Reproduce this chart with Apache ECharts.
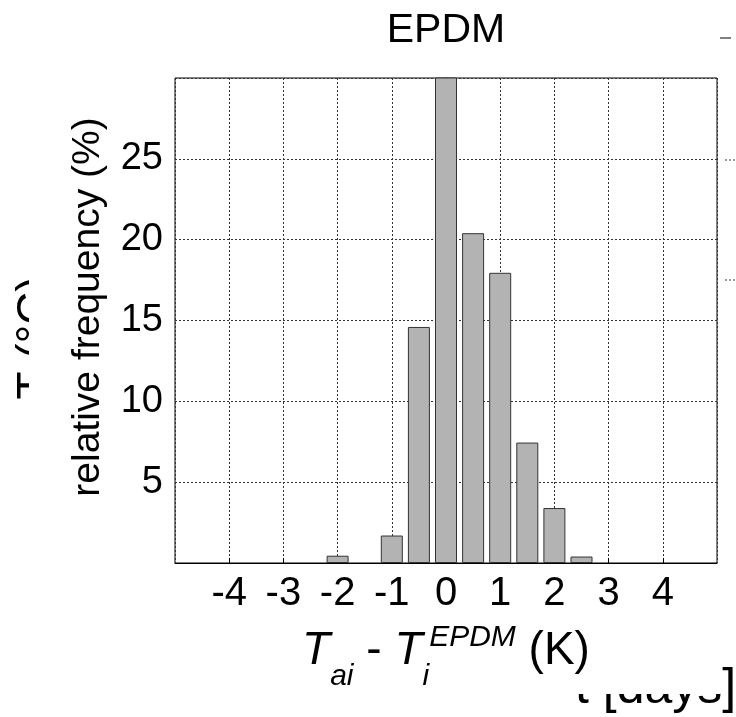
<!DOCTYPE html>
<html>
<head>
<meta charset="utf-8">
<script src="https://cdn.jsdelivr.net/npm/echarts@6/dist/echarts.min.js"></script>
<style>
html,body{margin:0;padding:0;background:#fff;}
#chart{width:736px;height:717px;}
</style>
</head>
<body>
<div id="chart"></div>
<script>
// ---- data ----
const binCenters = [-2, -1, -0.5, 0, 0.5, 1, 1.5, 2, 2.5];
const relFreq = [0.45, 1.7, 14.6, 31, 20.4, 17.95, 7.45, 3.4, 0.4];
const xTicks = [-4, -3, -2, -1, 0, 1, 2, 3, 4];
const yTicks = [5, 10, 15, 20, 25];
const titleText = 'EPDM';
const yName = 'relative frequency (%)';

const FONT = 'Liberation Sans, Arial, sans-serif';
const chart = echarts.init(document.getElementById('chart'), null, {renderer: 'canvas'});

const barData = binCenters.map((x, i) => [x, relFreq[i]]);

chart.setOption({
  animation: false,
  backgroundColor: '#fff',
  grid: {left: 175, right: 19, top: 78, bottom: 154, show: true, borderColor: '#000', borderWidth: 1, backgroundColor: 'transparent', z: 2},
  xAxis: {
    type: 'value', min: -5, max: 5, interval: 1, z: 3,
    axisLine: {show: true, onZero: false, lineStyle: {color: '#000', width: 1}},
    axisTick: {show: true, inside: true, length: 5, lineStyle: {color: '#000'}},
    axisLabel: {
      show: true, showMinLabel: false, showMaxLabel: false, margin: 11,
      color: '#000', fontSize: 40, fontFamily: FONT,
      formatter: v => (xTicks.indexOf(v) >= 0 ? String(v) : '')
    },
    splitLine: {show: true, lineStyle: {color: '#333', width: 1, type: [2, 2]}}
  },
  yAxis: {
    type: 'value', min: 0, max: 30, interval: 5, z: 3,
    axisLine: {show: true, lineStyle: {color: '#000', width: 1}},
    axisTick: {show: true, inside: true, length: 5, lineStyle: {color: '#000'}},
    axisLabel: {
      show: true, showMinLabel: false, showMaxLabel: false, margin: 12,
      color: '#000', fontSize: 38, fontFamily: FONT,
      formatter: v => (yTicks.indexOf(v) >= 0 ? String(v) : '')
    },
    splitLine: {show: true, lineStyle: {color: '#333', width: 1, type: [2, 2]}}
  },
  series: [{
    type: 'bar',
    data: barData,
    barWidth: 22,
    clip: true,
    z: 4,
    itemStyle: {color: '#b3b3b3', borderColor: '#333', borderWidth: 1}
  }],
  graphic: [
    // fragments of the figure lying behind (partly covered)
    {type: 'text', z: -10, x: 36, y: 338, rotation: Math.PI / 2,
     style: {text: 'T (°C)', fill: '#000', font: '46px ' + FONT, align: 'center', verticalAlign: 'middle'}},
    {type: 'text', z: -10, x: 575, y: 689,
     style: {text: 't [days]', fill: '#000', font: '50px ' + FONT, align: 'left', verticalAlign: 'middle'}},
    {type: 'line', z: -10, shape: {x1: 720, y1: 38, x2: 731, y2: 38}, style: {stroke: '#000', lineWidth: 1}},
    {type: 'line', z: -10, shape: {x1: 725, y1: 160, x2: 736, y2: 160}, style: {stroke: '#333', lineWidth: 1, lineDash: [2, 2]}},
    {type: 'line', z: -10, shape: {x1: 725, y1: 280, x2: 736, y2: 280}, style: {stroke: '#333', lineWidth: 1, lineDash: [2, 2]}},
    {type: 'rect', z: -5, shape: {x: 29, y: 0, width: 691, height: 694}, style: {fill: '#fff'}},
    // title
    {type: 'text', z: 10, x: 446, y: 31,
     style: {text: titleText, fill: '#000', font: '41px ' + FONT, align: 'center', verticalAlign: 'middle'}},
    // y axis name
    {type: 'text', z: 10, x: 88.5, y: 307, rotation: Math.PI / 2,
     style: {text: yName, fill: '#000', font: '39px ' + FONT, align: 'center', verticalAlign: 'middle'}},
    // x axis name with sub/superscripts
    {type: 'text', z: 10, x: 446, y: 651,
     style: {
       text: '{m|T}{sb|ai}{n| - }{m|T}{sb|i}{sp|EPDM}{n| (K)}',
       align: 'center', verticalAlign: 'middle',
       rich: {
         m: {fontFamily: FONT, fontSize: 46, fontStyle: 'italic', lineHeight: 81, fill: '#000', color: '#000'},
         n: {fontFamily: FONT, fontSize: 46, lineHeight: 81, fill: '#000', color: '#000'},
         sb: {fontFamily: FONT, fontSize: 30, fontStyle: 'italic', lineHeight: 30, verticalAlign: 'bottom', fill: '#000', color: '#000'},
         sp: {fontFamily: FONT, fontSize: 30, fontStyle: 'italic', lineHeight: 30, verticalAlign: 'top', padding: [12, 0, 0, 0], fill: '#000', color: '#000'}
       }
     }}
  ]
});
</script>
</body>
</html>
